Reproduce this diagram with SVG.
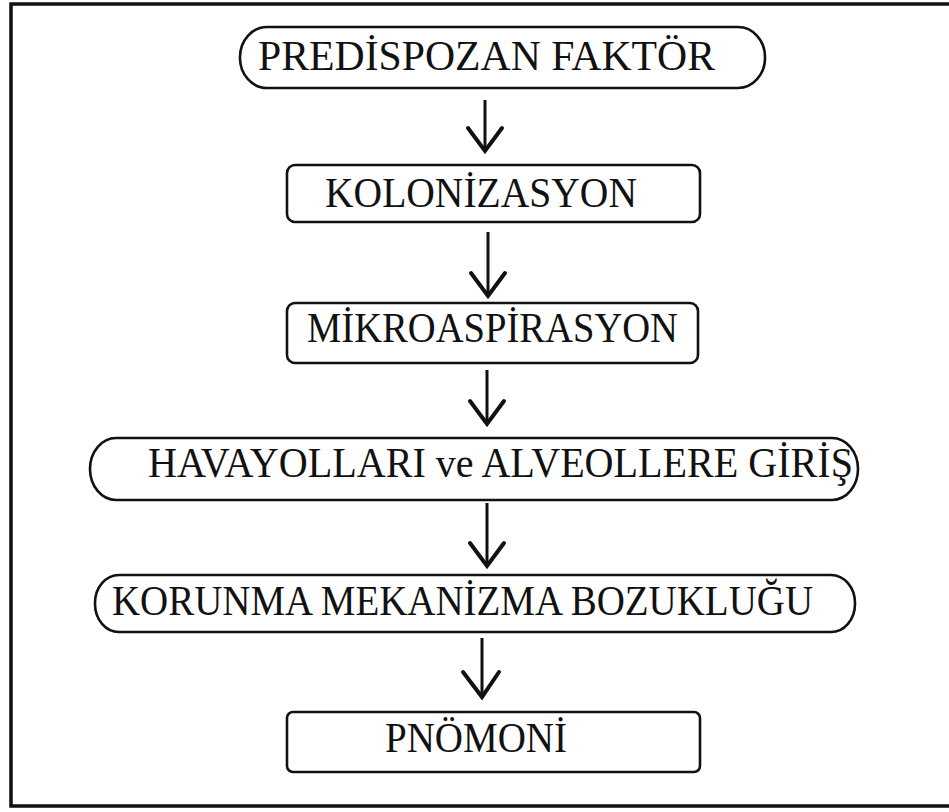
<svg xmlns="http://www.w3.org/2000/svg" width="949" height="812" viewBox="0 0 949 812">
  <defs>
    <style>
      .box { fill: #fff; stroke: #111; stroke-width: 2.6; }
      .lbl { font-family: "Liberation Serif", "Times New Roman", serif; font-size: 42px; fill: #111; }
      .shaft { stroke: #111; stroke-width: 3; fill: none; }
      .head { stroke: #111; stroke-width: 4; fill: none; stroke-linecap: round; stroke-linejoin: miter; }
      .frame { stroke: #111; stroke-width: 3.5; fill: none; }
    </style>
  </defs>
  <rect x="0" y="0" width="949" height="812" fill="#fff"/>

  <!-- page frame -->
  <path class="frame" d="M949,4 H11 V806 H949"/>

  <!-- connectors -->
  <g id="connectors">
    <path class="shaft" d="M485,100 V150"/>
    <path class="head" d="M468,128 L485,151 L502,128"/>
    <path class="shaft" d="M488,232 V296"/>
    <path class="head" d="M471,273 L488,296 L505,273"/>
    <path class="shaft" d="M487,370 V424"/>
    <path class="head" d="M470,401 L487,424 L504,401"/>
    <path class="shaft" d="M487,503 V566"/>
    <path class="head" d="M470,543 L487,566 L504,543"/>
    <path class="shaft" d="M482,638 V697"/>
    <path class="head" d="M463,672 L482,697 L499,672"/>
  </g>

  <g id="predispozan">
    <rect class="box" x="240" y="27" width="525" height="61" rx="27" ry="30"/>
    <text class="lbl" x="258" y="70" textLength="457" lengthAdjust="spacingAndGlyphs">PREDİSPOZAN FAKTÖR</text>
  </g>

  <g id="kolonizasyon">
    <rect class="box" x="287" y="165" width="413" height="57" rx="8"/>
    <text class="lbl" x="325" y="207" textLength="312" lengthAdjust="spacingAndGlyphs">KOLONİZASYON</text>
  </g>

  <g id="mikroaspirasyon">
    <rect class="box" x="287" y="303" width="411" height="60" rx="8"/>
    <text class="lbl" x="307" y="342" textLength="371" lengthAdjust="spacingAndGlyphs">MİKROASPİRASYON</text>
  </g>

  <g id="havayollari">
    <rect class="box" x="90" y="438" width="768" height="62" rx="26" ry="31"/>
    <text class="lbl" x="148" y="477" textLength="705" lengthAdjust="spacingAndGlyphs">HAVAYOLLARI ve ALVEOLLERE GİRİŞ</text>
  </g>

  <g id="korunma">
    <rect class="box" x="95" y="575" width="760" height="57" rx="24" ry="28"/>
    <text class="lbl" x="112" y="615" textLength="701" lengthAdjust="spacingAndGlyphs">KORUNMA MEKANİZMA BOZUKLUĞU</text>
  </g>

  <g id="pnomoni">
    <rect class="box" x="287" y="712" width="413" height="60" rx="6"/>
    <text class="lbl" x="385" y="752" textLength="182" lengthAdjust="spacingAndGlyphs">PNÖMONİ</text>
  </g>
</svg>
